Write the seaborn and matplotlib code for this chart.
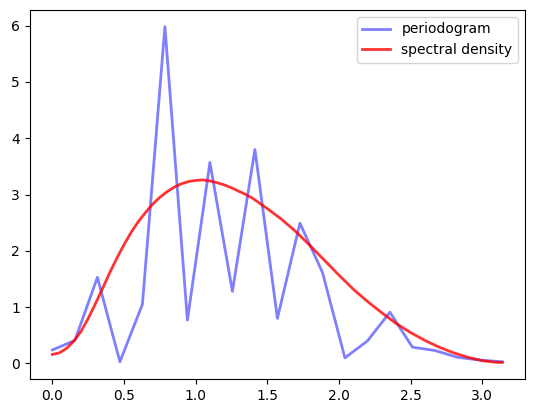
import numpy as np
import pandas as pd
import seaborn as sns
import matplotlib
matplotlib.use("Agg")
import matplotlib.pyplot as plt

# Periodogram at Fourier frequencies 2*pi*j/40, j=0..20
freq_idx = list(range(21))
periodogram = [0.24, 0.41, 1.53, 0.03, 1.05, 5.98, 0.77, 3.57, 1.28, 3.80, 0.80,
               2.49, 1.62, 0.10, 0.40, 0.91, 0.29, 0.23, 0.11, 0.06, 0.03]

# Spectral density
sd_x = [0.0, 0.05, 0.1, 0.15, 0.2, 0.25, 0.3, 0.35, 0.4, 0.45, 0.5, 0.55, 0.6,
        0.65, 0.7, 0.75, 0.8, 0.85, 0.9, 0.95, 1.0, 1.05, 1.1, 1.15, 1.2, 1.25,
        1.3, 1.35, 1.4, 1.5, 1.6, 1.7, 1.8, 1.9, 2.0, 2.1, 2.2, 2.3, 2.4, 2.5,
        2.6, 2.7, 2.8, 2.9, 3.0, 3.1, 3.14]
sd_y = [0.16, 0.19, 0.27, 0.40, 0.57, 0.80, 1.06, 1.33, 1.61, 1.87, 2.11, 2.33,
        2.52, 2.68, 2.83, 2.95, 3.05, 3.13, 3.19, 3.23, 3.25, 3.26, 3.24, 3.21,
        3.17, 3.12, 3.06, 3.00, 2.93, 2.75, 2.56, 2.34, 2.09, 1.83, 1.57, 1.32,
        1.10, 0.90, 0.71, 0.55, 0.41, 0.29, 0.19, 0.11, 0.05, 0.02, 0.02]

pg_x = [2 * np.pi * j / 40 for j in freq_idx]
df_pg = pd.DataFrame({"x": pg_x, "y": periodogram})
df_sd = pd.DataFrame({"x": sd_x, "y": sd_y})

fig = plt.figure(figsize=(5.34, 4.13), dpi=100)
ax = fig.add_axes([0.056, 0.082, 0.927, 0.894])
sns.lineplot(data=df_pg, x="x", y="y", ax=ax, color="b", alpha=0.5, lw=2,
             label="periodogram", sort=False)
sns.lineplot(data=df_sd, x="x", y="y", ax=ax, color="r", alpha=0.8, lw=2,
             label="spectral density", sort=False)
ax.set_xlabel("")
ax.set_ylabel("")
ax.legend(loc="upper right")
fig.savefig("out.png", dpi=100)
